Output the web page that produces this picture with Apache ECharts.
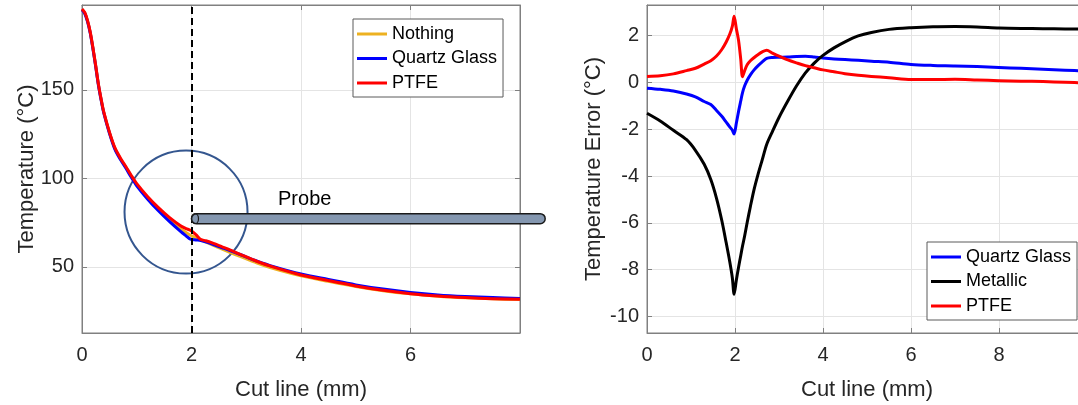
<!DOCTYPE html>
<html>
<head>
<meta charset="utf-8">
<script src="https://cdn.jsdelivr.net/npm/echarts@6/dist/echarts.min.js"></script>
<style>
  html, body { margin: 0; padding: 0; background: #ffffff; }
  #chart { width: 1078px; height: 405px; }
</style>
</head>
<body>
<div id="chart"></div>
<script>
// ---- Left panel: temperature along the cut line (mm, °C) ----
const cutLineT = [0, 0.05, 0.1, 0.15, 0.2, 0.25, 0.3, 0.35, 0.4, 0.5, 0.6, 0.7, 0.8, 0.9, 1.0, 1.2, 1.4, 1.6,
  1.8, 1.9, 1.98, 2.08, 2.17, 2.26, 2.4, 2.55, 2.7, 2.9, 3.2, 3.5, 4.0, 4.5, 5.0, 5.5, 6.0, 6.5, 7.0, 7.5, 8.0];
const tempNothing = [195.5, 193.5, 189.0, 182.5, 173.5, 163.5, 153.0, 144.5, 137.0, 126.0, 117.0, 111.2,
  106.3, 101.2, 96.5, 89.0, 82.5, 76.7, 71.6, 69.5, 67.9, 66.5, 65.3, 64.1, 62.2, 60.2, 58.3, 55.8, 52.2,
  49.1, 45.0, 41.9, 39.0, 36.6, 34.8, 33.5, 32.6, 32.0, 31.6];
const tempQuartz = [195.3, 193.2, 188.7, 182.2, 173.2, 163.2, 152.7, 144.2, 136.7, 125.7, 116.6, 110.8,
  105.9, 100.7, 95.9, 88.3, 81.6, 75.6, 70.1, 67.6, 65.7, 65.3, 65.0, 64.2, 62.7, 61.0, 59.3, 56.9, 53.3,
  50.2, 46.0, 42.9, 39.9, 37.5, 35.6, 34.2, 33.3, 32.7, 32.2];
const tempPTFE = [195.8, 193.8, 189.3, 182.8, 173.8, 163.8, 153.3, 144.8, 137.3, 126.3, 117.4, 111.6,
  106.8, 101.7, 97.1, 89.7, 83.4, 77.9, 73.3, 71.7, 70.7, 68.3, 65.5, 64.8, 63.3, 61.5, 59.7, 57.0, 53.1,
  49.9, 45.5, 42.3, 39.3, 36.8, 34.9, 33.6, 32.7, 32.1, 31.7];

// ---- Right panel: temperature error against the bare case (mm, °C) ----
const cutLineE = [0, 0.3, 0.6, 0.9, 1.1, 1.3, 1.45, 1.58, 1.7, 1.8, 1.88, 1.94, 1.98, 2.03, 2.08, 2.13,
  2.17, 2.22, 2.28, 2.35, 2.43, 2.52, 2.62, 2.72, 2.85, 3.0, 3.2, 3.4, 3.6, 3.8, 4.0, 4.25, 4.5, 4.8,
  5.1, 5.5, 6.0, 6.5, 7.0, 7.5, 8.0, 8.5, 9.0, 9.5, 10.0];
const errQuartz = [-0.25, -0.3, -0.37, -0.5, -0.62, -0.82, -0.95, -1.2, -1.45, -1.7, -1.9, -2.05, -2.21,
  -1.75, -1.25, -0.8, -0.45, -0.15, 0.1, 0.32, 0.52, 0.7, 0.87, 1.02, 1.06, 1.07, 1.08, 1.1, 1.11, 1.08,
  1.04, 1.0, 0.97, 0.94, 0.9, 0.86, 0.76, 0.72, 0.7, 0.67, 0.63, 0.6, 0.56, 0.52, 0.48];
const errMetallic = [-1.32, -1.65, -2.05, -2.45, -2.9, -3.5, -4.15, -4.95, -5.9, -6.85, -7.65, -8.35, -9.05,
  -8.45, -7.9, -7.4, -7.0, -6.55, -5.95, -5.3, -4.6, -3.95, -3.3, -2.65, -2.1, -1.5, -0.8, -0.15, 0.4,
  0.82, 1.15, 1.47, 1.73, 1.98, 2.13, 2.26, 2.33, 2.37, 2.38, 2.36, 2.32, 2.3, 2.29, 2.28, 2.27];
const errPTFE = [0.25, 0.28, 0.36, 0.5, 0.6, 0.78, 0.92, 1.12, 1.4, 1.72, 2.05, 2.4, 2.82, 2.3, 1.8, 1.0,
  0.24, 0.5, 0.76, 0.92, 1.05, 1.18, 1.3, 1.37, 1.25, 1.12, 0.96, 0.83, 0.71, 0.62, 0.53, 0.45, 0.37,
  0.3, 0.25, 0.2, 0.12, 0.12, 0.13, 0.1, 0.07, 0.05, 0.03, 0.0, -0.03];

// ---- Tick labels ----
const leftXTicks = [0, 2, 4, 6];
const leftYTicks = [50, 100, 150];
const rightXTicks = [0, 2, 4, 6, 8];
const rightYTicks = [-10, -8, -6, -4, -2, 0, 2];

// Probe position along the cut line
const probeTip = 2;

const FONT = 'Liberation Sans, Arial, Helvetica, sans-serif';
const AXIS_GRAY = '#808080';
const GRID_GRAY = '#e4e4e4';
const TEXT = '#262626';

const pairs = (xs, ys) => xs.map((x, i) => [x, ys[i]]);
const onlyTicks = list => v => (list.some(t => Math.abs(t - v) < 1e-9) ? String(v) : '');

function mainXAxis(gridIndex, max, ticks) {
  return {
    type: 'value', gridIndex, min: 0, max, interval: 2, position: 'bottom',
    name: 'Cut line (mm)', nameLocation: 'middle', nameGap: 46, nameMoveOverlap: false,
    nameTextStyle: { fontSize: 22, color: TEXT, fontFamily: FONT },
    axisLine: { show: true, onZero: false, lineStyle: { color: AXIS_GRAY, width: 1 } },
    axisTick: { show: true, inside: true, length: 5, lineStyle: { color: AXIS_GRAY } },
    axisLabel: { formatter: onlyTicks(ticks), fontSize: 20, color: TEXT, fontFamily: FONT, margin: 12,
      showMinLabel: true, showMaxLabel: false },
    splitLine: { show: true, lineStyle: { color: GRID_GRAY, width: 1 } }
  };
}
function mirrorXAxis(gridIndex, max) {
  return {
    type: 'value', gridIndex, min: 0, max, interval: 2, position: 'top',
    axisLine: { show: true, onZero: false, lineStyle: { color: AXIS_GRAY, width: 1 } },
    axisTick: { show: true, inside: true, length: 5, lineStyle: { color: AXIS_GRAY } },
    axisLabel: { show: false }, splitLine: { show: false }
  };
}
function mainYAxis(gridIndex, min, max, step, ticks, name, gap) {
  return {
    type: 'value', gridIndex, min, max, minInterval: step, maxInterval: step, position: 'left',
    name, nameLocation: 'middle', nameGap: gap, nameRotate: 90, nameMoveOverlap: false,
    nameTextStyle: { fontSize: 22, color: TEXT, fontFamily: FONT },
    axisLine: { show: true, onZero: false, lineStyle: { color: AXIS_GRAY, width: 1 } },
    axisTick: { show: true, inside: true, length: 5, lineStyle: { color: AXIS_GRAY } },
    axisLabel: { formatter: onlyTicks(ticks), fontSize: 20, color: TEXT, fontFamily: FONT, margin: 8,
      showMinLabel: false, showMaxLabel: false },
    splitLine: { show: true, lineStyle: { color: GRID_GRAY, width: 1 } }
  };
}
function mirrorYAxis(gridIndex, min, max, step) {
  return {
    type: 'value', gridIndex, min, max, minInterval: step, maxInterval: step, position: 'right',
    axisLine: { show: true, onZero: false, lineStyle: { color: AXIS_GRAY, width: 1 } },
    axisTick: { show: true, inside: true, length: 5, lineStyle: { color: AXIS_GRAY } },
    axisLabel: { show: false }, splitLine: { show: false }
  };
}
function curve(name, color, xIdx, yIdx, data, extra) {
  return Object.assign({
    name, type: 'line', xAxisIndex: xIdx, yAxisIndex: yIdx, data,
    symbol: 'none', showSymbol: false, color, smooth: 0.3,
    lineStyle: { color, width: 3, join: 'round' }, itemStyle: { color },
    emphasis: { disabled: true }, silent: true, animation: false
  }, extra || {});
}
function legendBox(names, left, top) {
  return {
    data: names, left, top, orient: 'vertical', icon: 'rect',
    itemWidth: 30, itemHeight: 3, itemGap: 2.5,
    padding: [4, 6, 3, 4], borderColor: '#5a5a5a', borderWidth: 1, backgroundColor: '#ffffff',
    textStyle: { fontSize: 18, color: '#000000', fontFamily: FONT, lineHeight: 22 },
    selectedMode: false
  };
}

const chart = echarts.init(document.getElementById('chart'), null, { renderer: 'canvas' });

chart.setOption({
  animation: false,
  backgroundColor: '#ffffff',
  grid: [
    { left: 82, top: 5, width: 438, height: 328, outerBoundsMode: 'none', containLabel: false,
      show: true, borderColor: AXIS_GRAY, borderWidth: 1 },
    { left: 647, top: 5, width: 440, height: 328, outerBoundsMode: 'none', containLabel: false,
      show: true, borderColor: AXIS_GRAY, borderWidth: 1 }
  ],
  xAxis: [
    mainXAxis(0, 8, leftXTicks), mirrorXAxis(0, 8),
    mainXAxis(1, 10, rightXTicks), mirrorXAxis(1, 10)
  ],
  yAxis: [
    mainYAxis(0, 12.7, 198, 50, leftYTicks, 'Temperature (°C)', 44), mirrorYAxis(0, 12.7, 198, 50),
    mainYAxis(1, -10.7, 3.3, 2, rightYTicks, 'Temperature Error (°C)', 42)
  ],
  legend: [
    legendBox(['Nothing', 'Quartz Glass', 'PTFE'], 353, 19),
    legendBox(['Quartz Glass', 'Metallic', 'PTFE'], 927, 242)
  ],
  series: [
    curve('Nothing', '#EDB120', 0, 0, pairs(cutLineT, tempNothing), {
      markLine: {
        silent: true, symbol: ['none', 'none'], animation: false,
        label: { show: false },
        lineStyle: { color: '#000000', type: [7, 4], width: 2 },
        emphasis: { disabled: true },
        data: [{ xAxis: probeTip }]
      }
    }),
    curve('Quartz Glass', '#0000FF', 0, 0, pairs(cutLineT, tempQuartz)),
    curve('PTFE', '#FF0000', 0, 0, pairs(cutLineT, tempPTFE)),
    curve('Quartz Glass', '#0000FF', 2, 2, pairs(cutLineE, errQuartz)),
    curve('Metallic', '#000000', 2, 2, pairs(cutLineE, errMetallic)),
    curve('PTFE', '#FF0000', 2, 2, pairs(cutLineE, errPTFE))
  ]
});

// Probe sketch and the region of interest, placed in data units of the left panel
const toPx = p => chart.convertToPixel({ xAxisIndex: 0, yAxisIndex: 0 }, p);
const ring = toPx([1.9, 81]);
const probeA = toPx([probeTip, 77.3]);
const probeB = toPx([8.46, 77.3]);
const probeLabel = toPx([3.58, 88]);
const probeH = 10;

chart.setOption({
  graphic: [
    { type: 'circle', z: 1, silent: true,
      shape: { cx: ring[0], cy: ring[1], r: 61.5 },
      style: { fill: 'none', stroke: '#34568f', lineWidth: 2 } },
    { type: 'rect', z: 100, silent: true,
      shape: { x: probeA[0], y: probeA[1] - probeH / 2, width: probeB[0] - probeA[0], height: probeH, r: probeH / 2 },
      style: { fill: '#8497B0', stroke: '#1a1a1a', lineWidth: 1.5 } },
    { type: 'ellipse', z: 101, silent: true,
      shape: { cx: probeA[0] + 3.5, cy: probeA[1], rx: 3.5, ry: probeH / 2 },
      style: { fill: 'none', stroke: '#1a1a1a', lineWidth: 1.2 } },
    { type: 'text', z: 100, silent: true,
      x: probeLabel[0], y: probeLabel[1],
      style: { text: 'Probe', fontSize: 20, fontFamily: FONT, fill: '#000000',
        align: 'left', verticalAlign: 'middle' } }
  ]
});
</script>
</body>
</html>
